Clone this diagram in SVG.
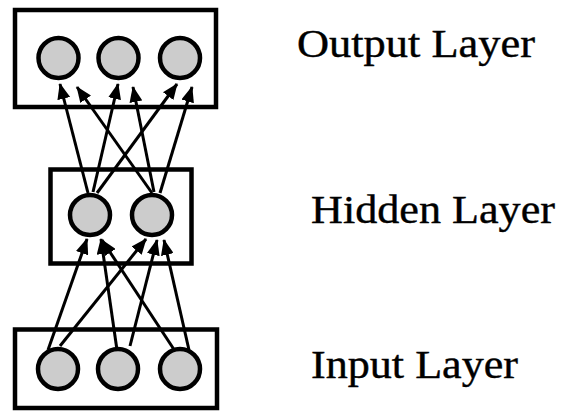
<svg xmlns="http://www.w3.org/2000/svg" width="563" height="411" viewBox="0 0 563 411">
<defs>
<style>
.box{fill:none;stroke:#000;stroke-width:4.5}
.node{fill:#cccccc;stroke:#000;stroke-width:4.5}
.edge{stroke:#000;stroke-width:3;fill:none;marker-end:url(#arr)}
.lbl{font-family:"Liberation Serif","Times New Roman",serif;font-size:39px;fill:#000;stroke:#000;stroke-width:0.4}
</style>
<marker id="arr" markerUnits="userSpaceOnUse" markerWidth="16" markerHeight="13" refX="15" refY="6.5" orient="auto">
<path d="M0,0 L16,6.5 L0,13 Z" fill="#000"/>
</marker>
</defs>
<rect width="563" height="411" fill="#fff"/>
<g id="output-layer">
<rect class="box" x="15" y="10" width="201" height="97"/>
<circle class="node" cx="58.5" cy="58" r="20"/>
<circle class="node" cx="118.5" cy="58" r="20"/>
<circle class="node" cx="180" cy="58" r="20"/>
</g>
<g id="hidden-layer">
<rect class="box" x="50.5" y="169.5" width="141" height="94"/>
<circle class="node" cx="90" cy="215" r="20"/>
<circle class="node" cx="152" cy="215" r="20"/>
</g>
<g id="input-layer">
<rect class="box" x="15" y="329.5" width="202" height="78.5"/>
<circle class="node" cx="58" cy="369" r="20"/>
<circle class="node" cx="118" cy="369" r="20"/>
<circle class="node" cx="180" cy="369" r="20"/>
</g>
<g id="connectors">
<line class="edge" x1="88" y1="193" x2="60" y2="84"/>
<line class="edge" x1="152" y1="193" x2="77" y2="87"/>
<line class="edge" x1="93" y1="192" x2="118" y2="84"/>
<line class="edge" x1="154" y1="192" x2="133" y2="87"/>
<line class="edge" x1="97" y1="193" x2="177" y2="84"/>
<line class="edge" x1="160" y1="193" x2="192" y2="87"/>
<line class="edge" x1="48" y1="350" x2="87" y2="239"/>
<line class="edge" x1="60" y1="346" x2="146" y2="239"/>
<line class="edge" x1="117" y1="350" x2="101" y2="239"/>
<line class="edge" x1="130" y1="346" x2="157" y2="240"/>
<line class="edge" x1="175" y1="351" x2="102" y2="240"/>
<line class="edge" x1="189" y1="350" x2="164" y2="240"/>
</g>
<g id="labels">
<text class="lbl" x="297" y="57" textLength="238" lengthAdjust="spacingAndGlyphs">Output Layer</text>
<text class="lbl" x="311" y="223" textLength="244" lengthAdjust="spacingAndGlyphs">Hidden Layer</text>
<text class="lbl" x="311" y="378" textLength="207" lengthAdjust="spacingAndGlyphs">Input Layer</text>
</g>
</svg>
